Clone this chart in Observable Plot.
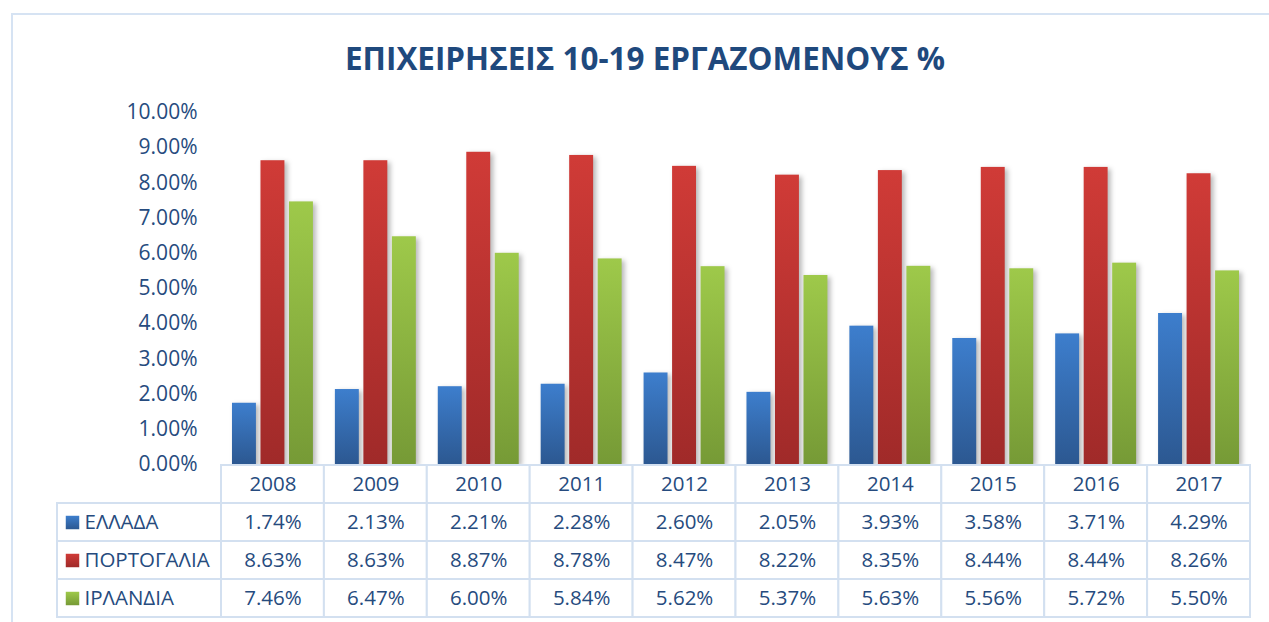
<!DOCTYPE html>
<html>
<head>
<meta charset="utf-8">
<script src="https://cdn.jsdelivr.net/npm/d3@7"></script>
<script src="https://cdn.jsdelivr.net/npm/@observablehq/plot@0.6"></script>
<style>
  html, body { margin: 0; padding: 0; background: #fff; }
  body { width: 1269px; height: 622px; overflow: hidden; position: relative; font-family: "Open Sans", sans-serif; }
  #frame { position: absolute; left: 11px; top: 13px; width: 1320px; height: 700px; border: 2px solid #d6e3f3; box-sizing: border-box; }
  #title { position: absolute; left: 0; top: 0; }
  #chart { position: absolute; left: 0; top: 0; }
  #table { position: absolute; left: 0; top: 464px; }
</style>
</head>
<body>
<div id="frame"></div>
<svg id="title" width="1269" height="100">
  <text x="645" y="70" text-anchor="middle" font-family="Open Sans" font-weight="bold" font-size="32" fill="#1f497d" textLength="600" lengthAdjust="spacingAndGlyphs">ΕΠΙΧΕΙΡΗΣΕΙΣ 10-19 ΕΡΓΑΖΟΜΕΝΟΥΣ %</text>
</svg>
<div id="chart"></div>
<div id="table"></div>
<script>
const years = ["2008", "2009", "2010", "2011", "2012", "2013", "2014", "2015", "2016", "2017"];
const series = ["ΕΛΛΑΔΑ", "ΠΟΡΤΟΓΑΛΙΑ", "ΙΡΛΑΝΔΙΑ"];
const greece   = [1.74, 2.13, 2.21, 2.28, 2.60, 2.05, 3.93, 3.58, 3.71, 4.29];
const portugal = [8.63, 8.63, 8.87, 8.78, 8.47, 8.22, 8.35, 8.44, 8.44, 8.26];
const ireland  = [7.46, 6.47, 6.00, 5.84, 5.62, 5.37, 5.63, 5.56, 5.72, 5.50];
const yTicks = [0, 1, 2, 3, 4, 5, 6, 7, 8, 9, 10];

const textColor = "#264b7e";
const gridColor = "#d3e0f0";
const gradients = [
  {id: "gB", top: "#3d7ecd", bottom: "#2c5891"},
  {id: "gR", top: "#d03b37", bottom: "#a02a29"},
  {id: "gG", top: "#9ec94a", bottom: "#769a36"}
];
const gradUrls = gradients.map(g => `url(#${g.id})`);

const valuesBySeries = [greece, portugal, ireland];
const rows = [];
years.forEach((year, i) => {
  series.forEach((s, j) => rows.push({year, series: s, value: valuesBySeries[j][i]}));
});

const fmt = v => v.toFixed(2) + "%";

const chart = Plot.plot({
  width: 1269,
  height: 480,
  marginTop: 112,
  marginBottom: 16,
  marginLeft: 221,
  marginRight: 19,
  style: {fontFamily: "Open Sans", fontSize: "21px", color: textColor, background: "transparent", overflow: "visible"},
  fx: {domain: years, padding: 0, round: false, axis: null},
  x: {domain: series, paddingInner: 0.16, paddingOuter: 0.385, round: false, axis: null},
  y: {domain: [0, 10], ticks: yTicks, tickFormat: fmt, tickSize: 0, tickPadding: 24, label: null},
  color: {domain: series, range: gradUrls},
  marks: [
    Plot.barY(rows, {fx: "year", x: "series", y: "value", fill: "series"})
  ]
});

const defs = d3.select(chart).insert("defs", ":first-child");
gradients.forEach(g => {
  const lg = defs.append("linearGradient").attr("id", g.id).attr("x1", 0).attr("y1", 0).attr("x2", 0).attr("y2", 1);
  lg.append("stop").attr("offset", "0%").attr("stop-color", g.top);
  lg.append("stop").attr("offset", "100%").attr("stop-color", g.bottom);
});
d3.select(chart).selectAll("g[aria-label='bar'] rect")
  .style("filter", "drop-shadow(3px 2px 2.5px rgba(0,0,0,0.28))");
document.getElementById("chart").appendChild(chart);

// data table
const legendStart = -164 / 102.9;
const cells = [];
years.forEach((year, i) => {
  for (let r = 0; r < 4; r++) cells.push({x1: i, x2: i + 1, y1: r, y2: r + 1});
});
series.forEach((s, j) => cells.push({x1: legendStart, x2: 0, y1: j + 1, y2: j + 2}));

const headerCells = years.map((year, i) => ({x: i + 0.5, y: 0.5, text: year}));
const valueCells = [];
years.forEach((year, i) => {
  series.forEach((s, j) => valueCells.push({x: i + 0.5, y: j + 1.5, text: fmt(valuesBySeries[j][i])}));
});
const legendCells = series.map((s, j) => ({x: legendStart, y: j + 1.5, text: s, fill: gradUrls[j]}));

const table = Plot.plot({
  width: 1269,
  height: 158,
  style: {fontFamily: "Open Sans", fontSize: "20.5px", color: textColor, background: "transparent", overflow: "visible"},
  x: {type: "linear", domain: [0, 10], range: [221, 1250], axis: null},
  y: {type: "linear", domain: [0, 4], range: [1, 153], axis: null},
  color: {type: "identity"},
  marks: [
    Plot.rect(cells, {x1: "x1", x2: "x2", y1: "y1", y2: "y2", fill: "white", stroke: gridColor, strokeWidth: 2}),
    Plot.text(headerCells, {x: "x", y: "y", text: "text", fill: textColor}),
    Plot.text(valueCells, {x: "x", y: "y", text: "text", fill: textColor}),
    Plot.dot(legendCells, {x: "x", y: "y", symbol: "square", r: 7.6, dx: 15, fill: "fill", stroke: null}),
    Plot.text(legendCells, {x: "x", y: "y", text: "text", dx: 27, textAnchor: "start", fill: textColor})
  ]
});
document.getElementById("table").appendChild(table);
</script>
</body>
</html>
